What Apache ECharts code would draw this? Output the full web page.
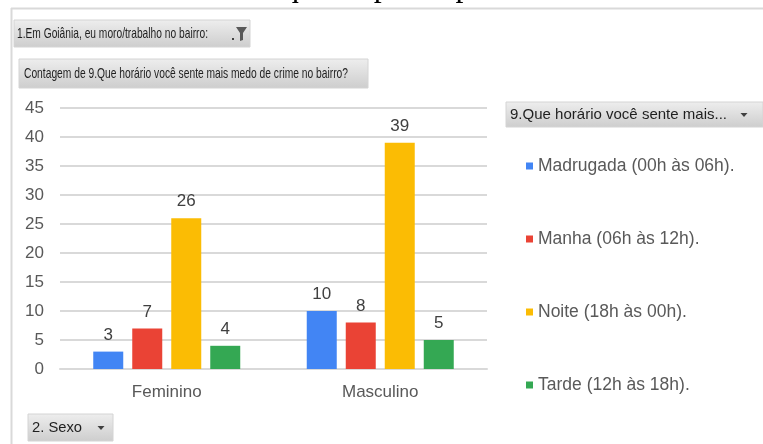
<!DOCTYPE html>
<html><head><meta charset="utf-8">
<script src="https://cdn.jsdelivr.net/npm/echarts@6/dist/echarts.min.js"></script>
<style>html,body{margin:0;padding:0;background:#fff}#c{width:763px;height:444px}</style>
</head><body><div id="c"></div>
<script>
const categories = ['Feminino', 'Masculino'];
const seriesNames = ['Madrugada (00h às 06h).', 'Manha (06h às 12h).', 'Noite (18h às 00h).', 'Tarde (12h às 18h).'];
const madrugada = [3, 10];
const manha = [7, 8];
const noite = [26, 39];
const tarde = [4, 5];
const colors = ['#4285F4', '#EA4335', '#FBBC04', '#34A853'];
const yTicks = { min: 0, max: 45, interval: 5 };
const topCaption = 'Gráfico 54: Horário que os participantes sentem mais medo de crime no bairro';
const filterLabel = '1.Em Goiânia, eu moro/trabalho no bairro:';
const valueLabel = 'Contagem de 9.Que horário você sente mais medo de crime no bairro?';
const legendLabel = '9.Que horário você sente mais...';
const axisLabel = '2. Sexo';

const btnFont = '15px "Liberation Sans", Arial, sans-serif';
const capFont = '32px "Liberation Serif", "Times New Roman", serif';
const measureCtx = document.createElement('canvas').getContext('2d');
function textW(t, f) { measureCtx.font = f; return measureCtx.measureText(t).width; }
const capX = 297 - textW('Gráfico 54: Horário ', capFont) - 14;
const grad = { type: 'linear', x: 0, y: 0, x2: 0, y2: 1, colorStops: [{ offset: 0, color: '#eeeeee' }, { offset: 1, color: '#cdcdcd' }] };
function button(x, y, w, h, text, tx, tw) {
  const s = tw / textW(text, btnFont);
  return [
    { type: 'rect', shape: { x: x, y: y, width: w, height: h }, style: { fill: grad, stroke: '#d4d4d4', lineWidth: 1 } },
    { type: 'text', x: tx, y: y + h / 2 + 0.5, scaleX: s, style: { text: text, font: btnFont, fill: '#1f1f1f', textVerticalAlign: 'middle' } }
  ];
}
function arrow(cx, cy) {
  return { type: 'polygon', shape: { points: [[cx - 3.5, cy - 2], [cx + 3.5, cy - 2], [cx, cy + 2]] }, style: { fill: '#404040' } };
}

const labelFont = 'Arial, "Liberation Sans", sans-serif';
const allData = [madrugada, manha, noite, tarde];
const series = seriesNames.map((n, i) => ({
  name: n, type: 'bar', data: allData[i], barWidth: 30, barGap: '30%',
  itemStyle: { color: colors[i] },
  label: { show: true, position: 'top', distance: 8, color: '#404040', fontSize: 17, fontFamily: labelFont }
}));

const chart = echarts.init(document.getElementById('c'));
chart.setOption({
  animation: false,
  backgroundColor: '#ffffff',
  grid: { left: 60, right: 276, top: 108, bottom: 75, containLabel: false },
  xAxis: {
    type: 'category', data: categories,
    axisLine: { lineStyle: { color: '#d9d9d9', width: 2 } },
    axisTick: { show: false },
    axisLabel: { color: '#595959', fontSize: 17, fontFamily: labelFont, margin: 15 }
  },
  yAxis: {
    type: 'value', min: yTicks.min, max: yTicks.max, interval: yTicks.interval,
    axisLine: { show: false }, axisTick: { show: false },
    splitLine: { lineStyle: { color: '#d9d9d9', width: 2 } },
    axisLabel: { color: '#595959', fontSize: 17, fontFamily: labelFont, margin: 16 }
  },
  legend: {
    orient: 'vertical', left: 521, top: 152, itemWidth: 7, itemHeight: 7, itemGap: 55, icon: 'rect',
    textStyle: { color: '#595959', fontSize: 17.5, lineHeight: 18, fontFamily: labelFont },
    data: seriesNames
  },
  series: series,
  graphic: [].concat(
    [{ type: 'text', x: capX, y: 4, style: { text: topCaption, font: capFont, fill: '#000', textVerticalAlign: 'bottom' } }],
    [{ type: 'rect', shape: { x: 0, y: 8, width: 763, height: 436 }, style: { fill: '#fff' } },
     { type: 'line', shape: { x1: 11, y1: 8.5, x2: 763, y2: 8.5 }, style: { stroke: '#d9d9d9', lineWidth: 2 } },
     { type: 'line', shape: { x1: 11.5, y1: 8, x2: 11.5, y2: 444 }, style: { stroke: '#d9d9d9', lineWidth: 2 } }],
    button(14, 20, 236, 27, filterLabel, 17, 191),
    [{ type: 'polygon', shape: { points: [[236, 27], [247, 27], [243, 33], [243, 40], [240, 41], [240, 33]] }, style: { fill: '#595959' } },
     { type: 'rect', shape: { x: 232, y: 38, width: 2, height: 2 }, style: { fill: '#404040' } }],
    button(19, 59, 349, 29, valueLabel, 24, 324),
    button(506, 102, 257, 25, legendLabel, 510, 217),
    [arrow(744, 115)],
    button(28, 414, 85, 27, axisLabel, 32, 50),
    [arrow(101, 428)]
  )
});
</script>
</body></html>
